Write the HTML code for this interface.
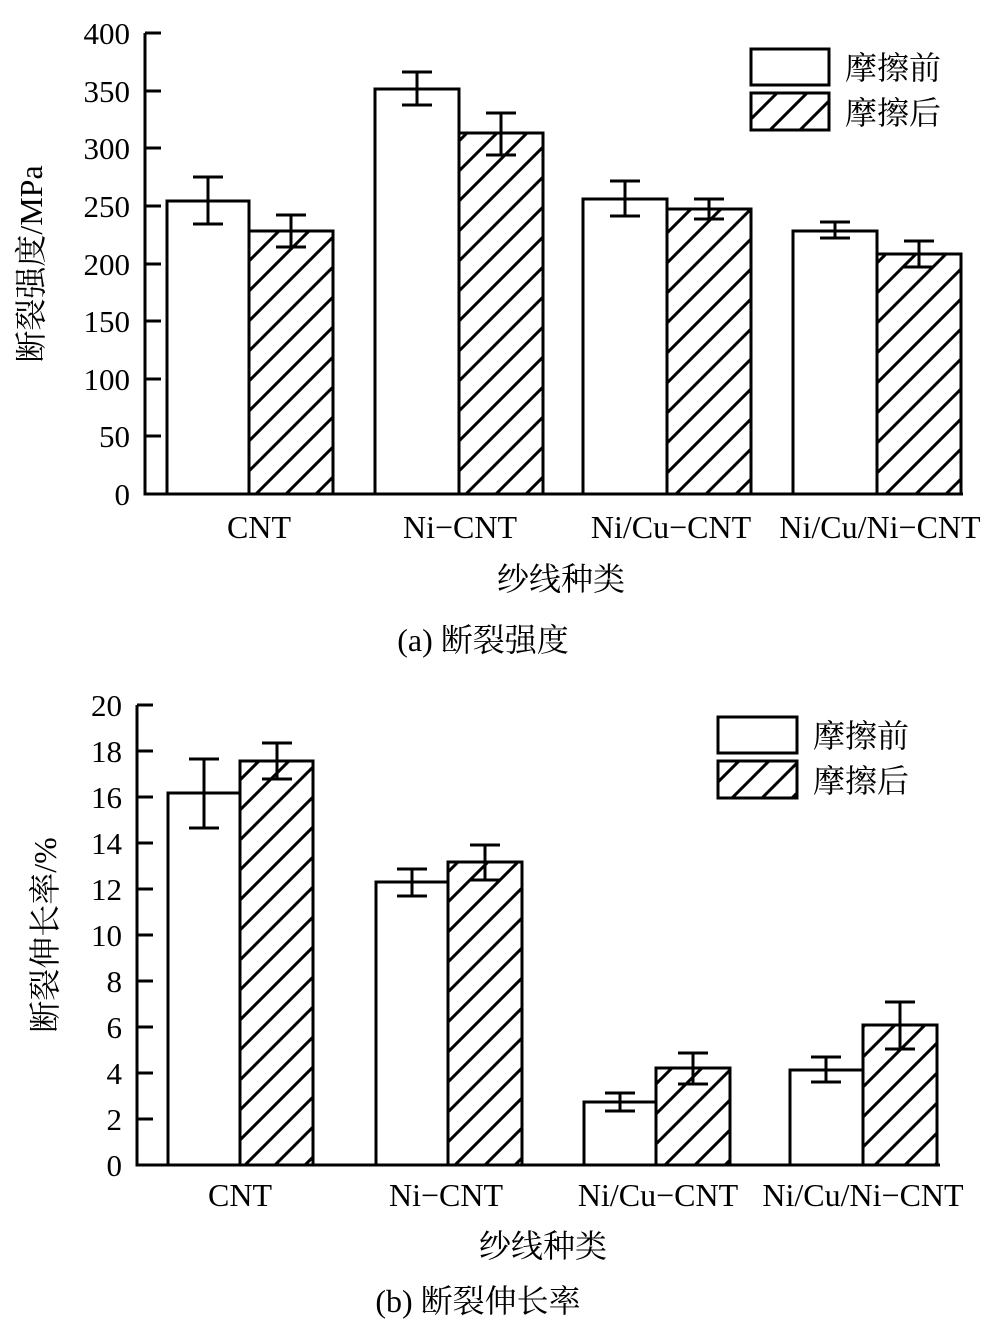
<!DOCTYPE html><html><head><meta charset="utf-8"><style>body{margin:0;background:#fff}svg{display:block}</style></head><body>
<svg width="1000" height="1327" viewBox="0 0 1000 1327" font-family="Liberation Serif, Noto Serif CJK SC, serif" fill="#000">
<defs>
<pattern id="h" patternUnits="userSpaceOnUse" width="30" height="30">
<path d="M-5,35 L35,-5 M-20,20 L20,-20 M10,50 L50,10" stroke="#000" stroke-width="3"/>
</pattern>
</defs>
<g stroke="#000" stroke-width="3" fill="none">
<path d="M145,33 V494 H963"/>
<path d="M145,33h16M145,91h16M145,148h16M145,206h16M145,264h16M145,321h16M145,379h16M145,436h16"/>
<rect x="167" y="201" width="82" height="293" fill="#fff"/>
<rect x="249" y="231" width="84" height="263" fill="url(#h)"/>
<rect x="375" y="89" width="84" height="405" fill="#fff"/>
<rect x="459" y="133" width="84" height="361" fill="url(#h)"/>
<rect x="583" y="199" width="84" height="295" fill="#fff"/>
<rect x="667" y="209" width="84" height="285" fill="url(#h)"/>
<rect x="793" y="231" width="84" height="263" fill="#fff"/>
<rect x="877" y="254" width="84" height="240" fill="url(#h)"/>
<path d="M208,177V224M193,177h30M193,224h30"/>
<path d="M291,215V247M276,215h30M276,247h30"/>
<path d="M417,72V105M402,72h30M402,105h30"/>
<path d="M501,113V155M486,113h30M486,155h30"/>
<path d="M625,181V216M610,181h30M610,216h30"/>
<path d="M709,199V219M694,199h30M694,219h30"/>
<path d="M835,222V238M820,222h30M820,238h30"/>
<path d="M919,241V267M904,241h30M904,267h30"/>
<rect x="751" y="49" width="78" height="36" fill="#fff"/>
<rect x="751" y="93" width="78" height="37" fill="url(#h)"/>
<path d="M137,705 V1165 H940"/>
<path d="M137,705h16M137,751h16M137,797h16M137,843h16M137,889h16M137,935h16M137,981h16M137,1027h16M137,1073h16M137,1119h16"/>
<rect x="168" y="793" width="72" height="372" fill="#fff"/>
<rect x="240" y="761" width="73" height="404" fill="url(#h)"/>
<rect x="376" y="882" width="72" height="283" fill="#fff"/>
<rect x="448" y="862" width="74" height="303" fill="url(#h)"/>
<rect x="584" y="1102" width="72" height="63" fill="#fff"/>
<rect x="656" y="1068" width="74" height="97" fill="url(#h)"/>
<rect x="790" y="1070" width="73" height="95" fill="#fff"/>
<rect x="863" y="1025" width="74" height="140" fill="url(#h)"/>
<path d="M204,759V828M189,759h30M189,828h30"/>
<path d="M277,743V779M262,743h30M262,779h30"/>
<path d="M412,869V896M397,869h30M397,896h30"/>
<path d="M485,845V880M470,845h30M470,880h30"/>
<path d="M620,1093V1111M605,1093h30M605,1111h30"/>
<path d="M693,1053V1084M678,1053h30M678,1084h30"/>
<path d="M826,1057V1082M811,1057h30M811,1082h30"/>
<path d="M900,1002V1049M885,1002h30M885,1049h30"/>
<rect x="718" y="717" width="79" height="36" fill="#fff"/>
<rect x="718" y="761" width="79" height="37" fill="url(#h)"/>
</g>
<g font-size="31" text-anchor="end">
<text x="130" y="44">400</text><text x="130" y="102">350</text><text x="130" y="159">300</text><text x="130" y="217">250</text><text x="130" y="275">200</text><text x="130" y="332">150</text><text x="130" y="390">100</text><text x="130" y="447">50</text><text x="130" y="505">0</text>
<text x="122" y="716">20</text><text x="122" y="762">18</text><text x="122" y="808">16</text><text x="122" y="854">14</text><text x="122" y="900">12</text><text x="122" y="946">10</text><text x="122" y="992">8</text><text x="122" y="1038">6</text><text x="122" y="1084">4</text><text x="122" y="1130">2</text><text x="122" y="1176">0</text>
</g>
<g font-size="32" text-anchor="middle">
<text x="259" y="538">CNT</text><text x="460" y="538">Ni−CNT</text><text x="671" y="538">Ni/Cu−CNT</text><text x="880" y="538">Ni/Cu/Ni−CNT</text>
<text x="561" y="590">纱线种类</text>
<text x="483" y="651">(a) 断裂强度</text>
<text x="240" y="1206">CNT</text><text x="446" y="1206">Ni−CNT</text><text x="658" y="1206">Ni/Cu−CNT</text><text x="863" y="1206">Ni/Cu/Ni−CNT</text>
<text x="543" y="1257">纱线种类</text>
<text x="478" y="1312">(b) 断裂伸长率</text>
<text transform="translate(42,264) rotate(-90)">断裂强度/MPa</text>
<text transform="translate(56,935) rotate(-90)">断裂伸长率/%</text>
</g>
<g font-size="32">
<text x="845" y="79">摩擦前</text><text x="845" y="124">摩擦后</text>
<text x="813" y="747">摩擦前</text><text x="813" y="792">摩擦后</text>
</g>
</svg>
</body></html>
